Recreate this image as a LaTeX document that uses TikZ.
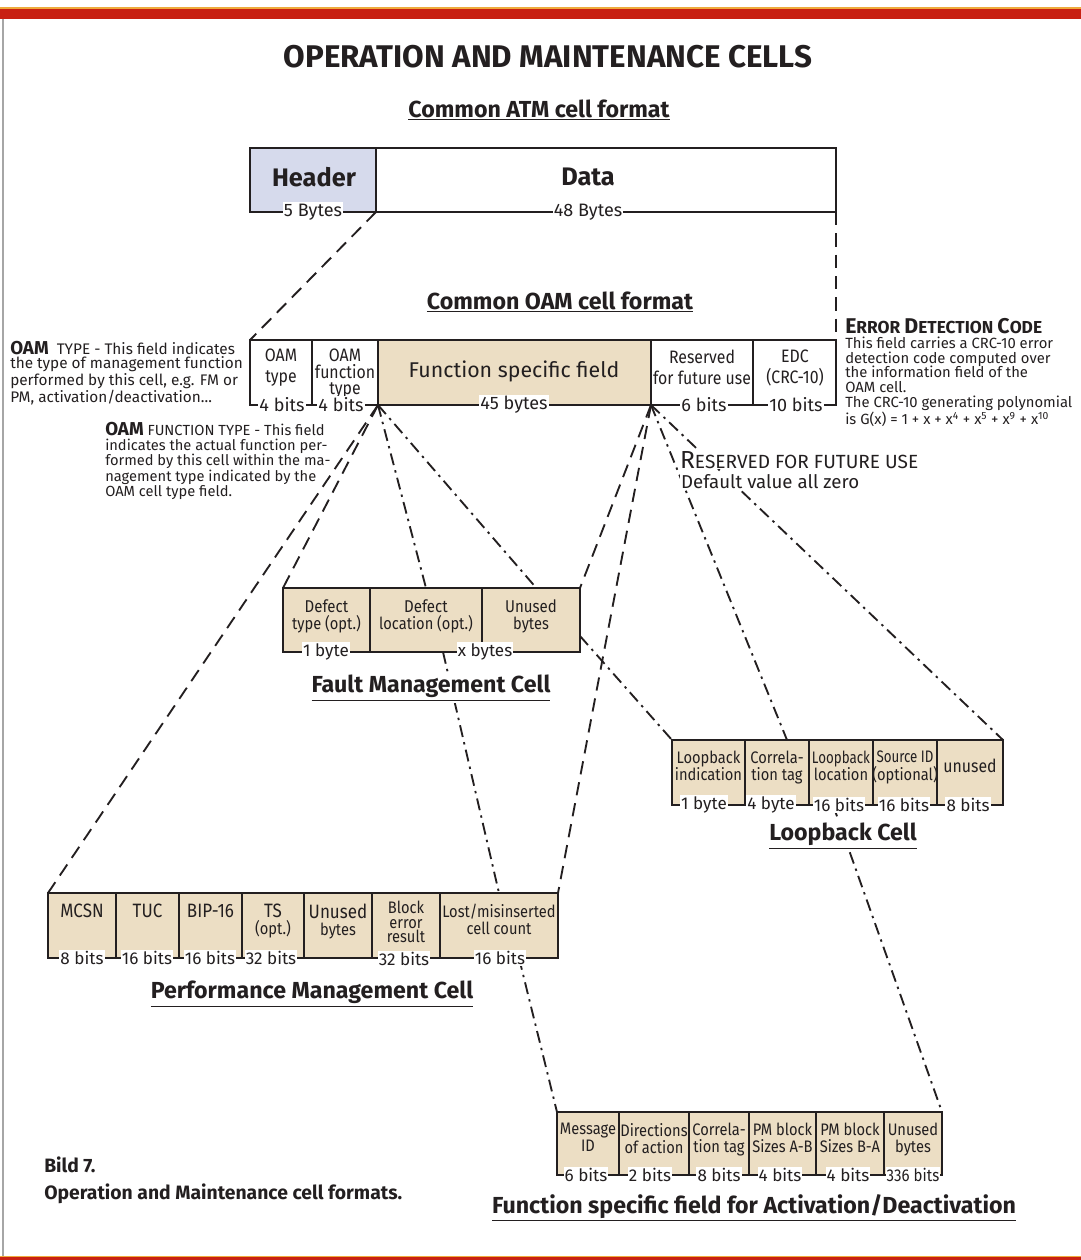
\documentclass[tikz,border=0pt]{standalone}
\usepackage{fontspec}
\setmainfont{Fira Sans}
\newfontfamily\condf[FakeStretch=0.88]{Fira Sans}
\newfontfamily\condff[FakeStretch=0.8]{Fira Sans}
\usetikzlibrary{fit,calc}
\definecolor{ink}{RGB}{35,31,32}
\definecolor{tanf}{RGB}{236,222,196}
\definecolor{hdrblue}{RGB}{214,218,236}
\definecolor{redbar}{RGB}{200,32,18}
\definecolor{orangeline}{RGB}{238,170,60}
\pgfdeclarelayer{bg}
\pgfsetlayers{bg,main}
\newcommand\fsz[2]{\fontsize{#1}{#2}\selectfont}
\tikzset{
  box/.style={draw=ink, line width=1.8pt, inner sep=0pt, outer sep=0pt, fill=tanf},
  ftxt/.style={align=center, inner sep=0pt, font=\condf\fsz{12.5}{12.8}, text=ink, anchor=north},
  otxt/.style={align=center, inner sep=0pt, font=\condf\fsz{13.5}{15.5}, text=ink, anchor=north},
  lbl/.style={fill=white, inner xsep=0.8pt, inner ysep=1.2pt, font=\fsz{12.8}{12.8}, text=ink},
  ttl/.style={fill=white, inner sep=2pt, font=\bfseries\fsz{17.4}{19}, text=ink},
  note/.style={align=left, inner sep=0pt, text=ink, anchor=north west},
  dsh/.style={draw=ink, line width=1.4pt, dash pattern=on 10pt off 6pt},
  dd/.style={draw=ink, line width=1.4pt, dash pattern=on 9pt off 4pt on 1.8pt off 4pt},
}
% #1 style, #2 name, #3 x1, #4 x2, #5 y1, #6 y2, #7 text
\newcommand\fld[7][]{%
  \node[box,#1,fit={(#3,#5)(#4,#6)}] (#2) {};
  \node[ftxt] (#2t) at ($(#2.north)+(0,11)$) {#7};}
\begin{document}
\begin{tikzpicture}[x=0.75pt,y=-0.75pt]
\useasboundingbox (0,0) rectangle (1081,1260);
% frame bars
\fill[redbar] (0,8) rectangle (1081,19);
\draw[orangeline, line width=0.9pt] (0,8) -- (1081,8);
\fill[redbar] (0,1257) rectangle (1081,1260);
\draw[orangeline, line width=0.9pt] (0,1256.5) -- (1081,1256.5);
\draw[black!35, line width=0.8pt] (3,19) -- (3,1256);

% titles
\node[font=\bfseries\fsz{23.5}{25}, text=ink] (title) at (548,57) {OPERATION AND MAINTENANCE CELLS};
\node[ttl] (tatm) at (539,110) {\underline{Common ATM cell format}};
\node[ttl] (toam) at (560,302) {\underline{Common OAM cell format}};

% ATM cell
\node[box, fill=hdrblue, fit={(250,148)(376,212)}] (hdr) {};
\node[box, fill=white, fit={(376,148)(836,212)}] (data) {};
\node[font=\bfseries\fsz{19}{20}, text=ink] (hdrt) at (314,177) {Header};
\node[font=\bfseries\fsz{19}{20}, text=ink] (datat) at (588,177) {Data};
\node[lbl, font=\fsz{13.5}{13.5}] (l5b) at (313,212) {5 Bytes};
\node[lbl, font=\fsz{13.5}{13.5}] (l48b) at (588,212) {48 Bytes};

% OAM cell
\node[box, fill=white, fit={(250,340)(312,405)}] (oam1) {};
\node[otxt] (oam1t) at (281,349) {OAM\\type};
\node[box, fill=white, fit={(312,340)(378,405)}] (oam2) {};
\node[otxt, font=\condf\fsz{13.5}{12.2}] (oam2t) at (345,349) {OAM\\function\\type};
\node[box, fit={(378,340)(651,405)}] (fsf) {};
\node[font=\fsz{16}{16}, text=ink, inner sep=0pt] (fsft) at (514,371) {Function specific field};
\node[box, fill=white, fit={(651,340)(753,405)}] (res) {};
\node[otxt] (rest) at (702,350) {Reserved\\for future use};
\node[box, fill=white, fit={(753,340)(836,405)}] (edc) {};
\node[otxt] (edct) at (795,350) {EDC\\(CRC-10)};
\node[lbl, font=\fsz{13.5}{13.5}] (lo1) at (282,405) {4 bits};
\node[lbl, font=\fsz{13.5}{13.5}] (lo2) at (341,405) {4 bits};
\node[lbl, font=\fsz{13.5}{13.5}] (lo3) at (514,405) {45 bytes};
\node[lbl, font=\fsz{13.5}{13.5}] (lo4) at (704,405) {6 bits};
\node[lbl, font=\fsz{13.5}{13.5}] (lo5) at (796,405) {10 bits};

% notes
\node[note, font=\fsz{11.5}{10.6}] (n1) at (10,341) {{\bfseries\fsz{14}{10.6}OAM}\ \ TYPE - This field indicates\\the type of management function\\performed by this cell, e.g. FM or\\PM, activation/deactivation...};
\node[note, font=\fsz{11}{10.9}] (n2) at (105,422) {{\bfseries\fsz{14}{10.9}OAM} FUNCTION TYPE - This field\\indicates the actual function per-\\formed by this cell within the ma-\\nagement type indicated by the\\OAM cell type field.};
\node[note, font=\fsz{11.1}{11.1}] (n3) at (845,318) {{\bfseries\fsz{16}{11}E\fsz{13}{11}RROR \fsz{16}{11}D\fsz{13}{11}ETECTION \fsz{16}{11}C\fsz{13}{11}ODE}\\This field carries a CRC-10 error\\detection code computed over\\the information field of the\\OAM cell.\\The CRC-10 generating polynomial\\is G(x) = 1 + x + x\textsuperscript{4} + x\textsuperscript{5} + x\textsuperscript{9} + x\textsuperscript{10}};
\node[fill=white, inner sep=0.6pt, anchor=base west, font=\fsz{14.3}{14}, text=ink] (n4) at (679,468) {{\fsz{18.5}{14}R}ESERVED FOR FUTURE USE};
\node[fill=white, inner sep=0.6pt, anchor=base west, font=\fsz{14}{14}, text=ink] (n5) at (680,488) {Default value all zero};

% Fault management cell
\fld{fm1}{283}{370}{588}{652}{\fsz{12.8}{14}Defect\\type (opt.)}
\fld{fm2}{370}{482}{588}{652}{\fsz{12.8}{14}Defect\\location (opt.)}
\fld{fm3}{482}{580}{588}{652}{\fsz{12.8}{14}Unused\\bytes}
\node[lbl] (lf1) at (326,652) {1 byte};
\node[lbl] (lf2) at (485,652) {x bytes};
\node[ttl] (tfm) at (431,688) {\underline{Fault Management Cell}};

% Loopback cell
\fld{lb1}{672}{745}{740}{805}{Loopback\\indication}
\fld{lb2}{745}{809}{740}{805}{Correla-\\tion tag}
\fld{lb3}{809}{873}{740}{805}{\condff Loopback\\location}
\fld{lb4}{873}{937}{740}{805}{\condff Source ID\\(optional)}
\node[box, fit={(937,740)(1003,805)}] (lb5) {};
\node[ftxt, anchor=center, font=\condf\fsz{13.5}{13.5}] (lb5t) at (970,766) {unused};
\node[lbl] (ll1) at (704,805) {1 byte};
\node[lbl] (ll2) at (771,805) {4 byte};
\node[lbl] (ll3) at (839,805) {16 bits};
\node[lbl] (ll4) at (904,805) {16 bits};
\node[lbl] (ll5) at (968,805) {8 bits};
\node[ttl] (tlb) at (843,836) {\underline{Loopback Cell}};

% Performance management cell
\fld{pm1}{48}{116}{893}{958}{\fsz{14.5}{15}MCSN}
\fld{pm2}{116}{179}{893}{958}{\fsz{14.5}{15}TUC}
\fld{pm3}{179}{242}{893}{958}{\fsz{14.5}{15}BIP-16}
\fld{pm4}{242}{304}{893}{958}{\fsz{14.5}{14}TS\\(opt.)}
\fld{pm5}{304}{372}{893}{958}{\fsz{14.5}{14}Unused\\bytes}
\node[box, fit={(372,893)(440,958)}] (pm6) {};
\node[ftxt, font=\condf\fsz{12.5}{10.8}] (pm6t) at (406,901) {Block\\error\\result};
\fld{pm7}{440}{558}{893}{958}{\fsz{12.5}{13.5}Lost/misinserted\\cell count}
\node[lbl] (lp1) at (82,958) {8 bits};
\node[lbl] (lp2) at (147,958) {16 bits};
\node[lbl] (lp3) at (210,958) {16 bits};
\node[lbl] (lp4) at (271,958) {32 bits};
\node[lbl] (lp6) at (404,959) {32 bits};
\node[lbl] (lp7) at (500,958) {16 bits};
\node[ttl] (tpm) at (312,994) {\underline{Performance Management Cell}};

% Activation / deactivation
\fld{ac1}{557}{619}{1112}{1175}{Message\\ID}
\fld{ac2}{619}{689}{1112}{1175}{Directions\\of action}
\fld{ac3}{689}{749}{1112}{1175}{Correla-\\tion tag}
\fld{ac4}{749}{816}{1112}{1175}{PM block\\Sizes A-B}
\fld{ac5}{816}{884}{1112}{1175}{PM block\\Sizes B-A}
\fld{ac6}{884}{942}{1112}{1175}{Unused\\bytes}
\node[lbl] (la1) at (586,1175) {6 bits};
\node[lbl] (la2) at (650,1175) {2 bits};
\node[lbl] (la3) at (719,1175) {8 bits};
\node[lbl] (la4) at (780,1175) {4 bits};
\node[lbl] (la5) at (848,1175) {4 bits};
\node[lbl, font=\condf\fsz{12.8}{12.8}] (la6) at (913,1175) {336 bits};
\node[ttl] (tac) at (754,1208) {\underline{Function specific field for Activation/Deactivation}};

% caption
\node[anchor=west, inner sep=0pt, font=\bfseries\fsz{14.5}{15}, text=ink] (cap1) at (44,1165) {Bild 7.};
\node[anchor=west, inner sep=0pt, font=\bfseries\fsz{14.5}{15}, text=ink] (cap2) at (44,1194) {Operation and Maintenance cell formats.};

% connectors
\begin{pgfonlayer}{bg}
\draw[dsh] (hdr.south east) -- (oam1.north west);
\draw[dsh] (data.south east) -- (edc.north east);
\draw[dsh] (fsf.south west) -- (pm1.north west);
\draw[dsh] (fsf.south west) -- (fm1.north west);
\draw[dd] (fsf.south west) -- (fm2.north);
\draw[dd] (fsf.south west) -- ([xshift=4pt]fm3.north);
\draw[dsh] (fsf.south east) -- (fm3.north east);
\draw[dsh] (fsf.south east) -- (pm7.north east);
\draw[dd] (fsf.south east) -- ([xshift=7.5pt]lb2.north);
\draw[dd] (fsf.south east) -- (lb5.north east);
\draw[dd] ($(fm3.east)!0.5!(fm3.south east)$) -- (lb1.north west);
\draw[dd] ([xshift=12.75pt]fm2.south) -- (pm7.north);
\draw[dd] ([xshift=15pt]pm7.south) -- (ac1.north west);
\draw[dd] ([xshift=-6pt]lb3.south) -- (ac6.north east);
\end{pgfonlayer}
\end{tikzpicture}
\end{document}
